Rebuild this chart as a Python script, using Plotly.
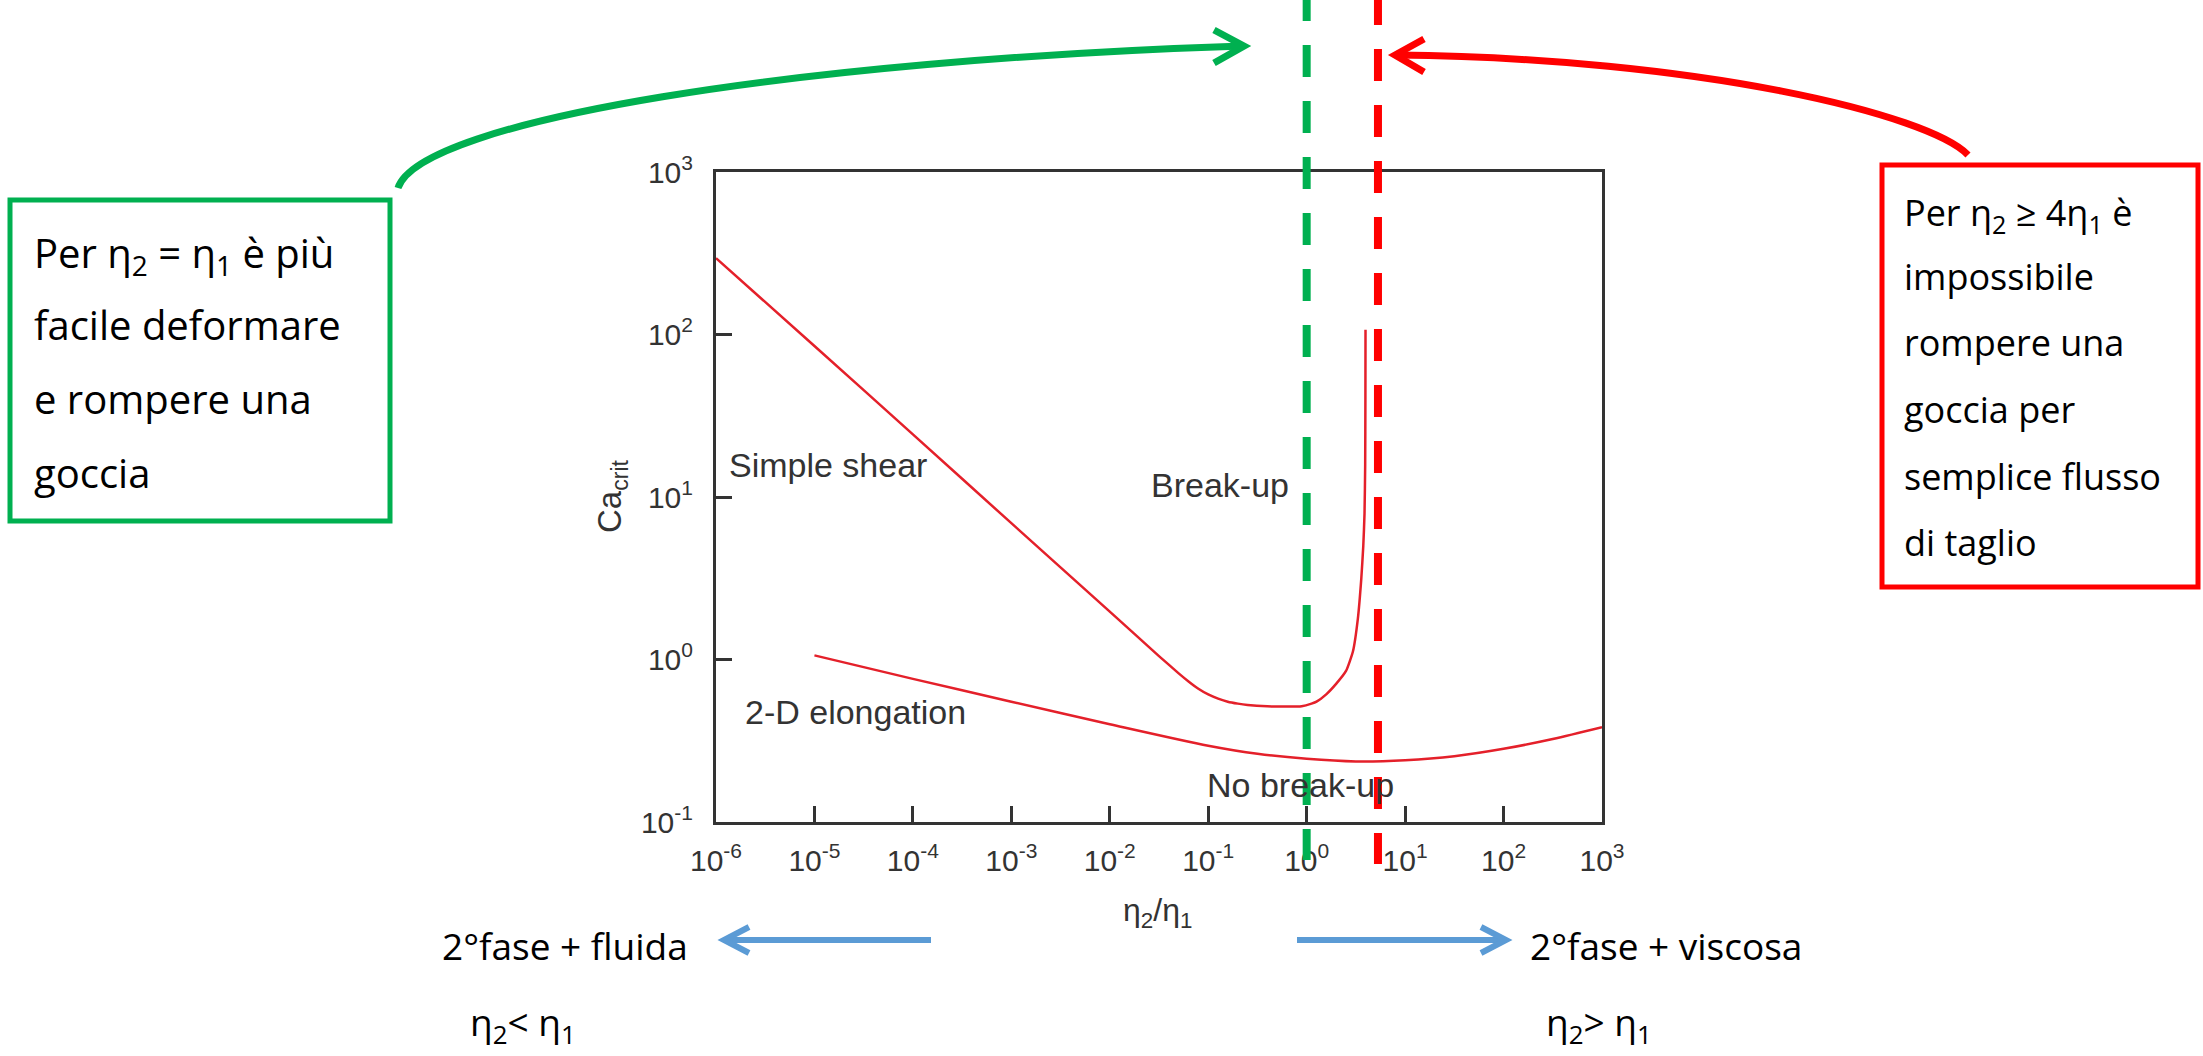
import plotly.graph_objects as go

# ---------------- data ----------------
shear_ratio = [1e-6, 1e-5, 1e-4, 1e-3, 1e-2, 0.0316, 0.0501, 0.0631, 0.0794, 0.1, 0.126,
               0.158, 0.2, 0.251, 0.398, 0.631, 0.891, 1.12, 1.26, 1.58, 2.0, 2.51, 2.95,
               3.31, 3.59, 3.76, 3.87, 3.93, 3.95, 3.96]
shear_ca = [295, 85, 24.3, 6.9, 1.97, 1.05, 0.822, 0.733, 0.661, 0.610, 0.575,
            0.550, 0.535, 0.525, 0.515, 0.513, 0.516, 0.535, 0.55, 0.61, 0.71, 0.85, 1.12,
            1.78, 3.16, 5.0, 7.9, 15.8, 40, 107]

elong_ratio = [1e-5, 1e-4, 1e-3, 1e-2, 0.1, 0.316, 1, 3.16, 10, 31.6, 100, 316, 1000]
elong_ca = [1.06, 0.76, 0.55, 0.40, 0.295, 0.263, 0.245, 0.236, 0.24, 0.254, 0.282, 0.324, 0.383]

x_tick_vals = [1e-6, 1e-5, 1e-4, 1e-3, 1e-2, 1e-1, 1, 10, 100, 1000]
x_tick_text = ["10<sup>-6</sup>", "10<sup>-5</sup>", "10<sup>-4</sup>", "10<sup>-3</sup>",
               "10<sup>-2</sup>", "10<sup>-1</sup>", "10<sup>0</sup>", "10<sup>1</sup>",
               "10<sup>2</sup>", "10<sup>3</sup>"]
y_tick_vals = [0.1, 1, 10, 100, 1000]
y_tick_text = ["10<sup>-1</sup>", "10<sup>0</sup>", "10<sup>1</sup>", "10<sup>2</sup>", "10<sup>3</sup>"]

equal_ratio = 1.0      # green dashed line
limit_ratio = 5.3      # red dashed line

green_box_lines = ["Per η<sub>2</sub> = η<sub>1</sub> è più", "facile deformare",
                   "e rompere una", "goccia"]
red_box_lines = ["Per η<sub>2</sub> ≥ 4η<sub>1</sub> è", "impossibile", "rompere una",
                 "goccia per", "semplice flusso", "di taglio"]

# ---------------- layout geometry ----------------
WIDTH, HEIGHT = 2203, 1056
L, R, T, B = 716, 1602, 172, 822
W, H = R - L, B - T


def px(x):
    return (x - L) / W


def py(y):
    return (B - y) / H


CURVE_RED = "#e4202a"
GREEN = "#00B050"
RED = "#FF0000"
BLUE = "#5B9BD5"
AX = "#333333"
PLOT_FONT = "Liberation Sans, Arial, sans-serif"
BOX_FONT = "Open Sans, Noto Sans, sans-serif"

fig = go.Figure()
fig.add_trace(go.Scatter(x=shear_ratio, y=shear_ca, mode="lines",
                         line=dict(color=CURVE_RED, width=2.5, shape="spline", smoothing=0.5),
                         name="Simple shear", showlegend=False))
fig.add_trace(go.Scatter(x=elong_ratio, y=elong_ca, mode="lines",
                         line=dict(color=CURVE_RED, width=2.5, shape="spline", smoothing=0.8),
                         name="2-D elongation", showlegend=False))

shapes = []
# vertical dashed reference lines
shapes.append(dict(type="line", xref="x", yref="paper", x0=equal_ratio, x1=equal_ratio,
                   y0=py(-11), y1=py(860), line=dict(color=GREEN, width=8, dash="32px,24px"),
                   layer="above"))
shapes.append(dict(type="line", xref="x", yref="paper", x0=limit_ratio, x1=limit_ratio,
                   y0=py(-7), y1=py(864), line=dict(color=RED, width=8, dash="32px,24px"),
                   layer="above"))
# boxes
shapes.append(dict(type="rect", xref="paper", yref="paper", x0=px(10), x1=px(390),
                   y0=py(200), y1=py(521), line=dict(color=GREEN, width=5), fillcolor="white"))
shapes.append(dict(type="rect", xref="paper", yref="paper", x0=px(1882), x1=px(2198),
                   y0=py(165), y1=py(587), line=dict(color=RED, width=5), fillcolor="white"))


def path(points, cmd):
    s = ""
    for c, (x, y) in zip(cmd, points):
        s += f"{c} {px(x):.5f},{py(y):.5f} "
    return s.strip()


def cubic(p0, p1, p2, p3):
    return (f"M {px(p0[0]):.5f},{py(p0[1]):.5f} C {px(p1[0]):.5f},{py(p1[1]):.5f} "
            f"{px(p2[0]):.5f},{py(p2[1]):.5f} {px(p3[0]):.5f},{py(p3[1]):.5f}")


# green curved arrow
shapes.append(dict(type="path", xref="paper", yref="paper",
                   path=cubic((398, 188), (420, 120), (800, 60), (1243, 46)),
                   line=dict(color=GREEN, width=7)))
shapes.append(dict(type="path", xref="paper", yref="paper",
                   path=path([(1214, 30), (1244, 46), (1214, 63)], "MLL"),
                   line=dict(color=GREEN, width=7)))
# red curved arrow
shapes.append(dict(type="path", xref="paper", yref="paper",
                   path=cubic((1968, 155), (1930, 115), (1700, 58), (1396, 55)),
                   line=dict(color=RED, width=7)))
shapes.append(dict(type="path", xref="paper", yref="paper",
                   path=path([(1424, 39), (1395, 55), (1424, 72)], "MLL"),
                   line=dict(color=RED, width=7)))
# blue arrows
shapes.append(dict(type="line", xref="paper", yref="paper", x0=px(931), x1=px(727),
                   y0=py(940), y1=py(940), line=dict(color=BLUE, width=6)))
shapes.append(dict(type="path", xref="paper", yref="paper",
                   path=path([(749, 927), (724, 940), (749, 953)], "MLL"),
                   line=dict(color=BLUE, width=6)))
shapes.append(dict(type="line", xref="paper", yref="paper", x0=px(1297), x1=px(1503),
                   y0=py(940), y1=py(940), line=dict(color=BLUE, width=6)))
shapes.append(dict(type="path", xref="paper", yref="paper",
                   path=path([(1481, 927), (1506, 940), (1481, 953)], "MLL"),
                   line=dict(color=BLUE, width=6)))

ann = []


def text(t, x, y, size, font, color="black", xanchor="left", angle=0):
    ann.append(dict(text=t, x=px(x), y=py(y), xref="paper", yref="paper",
                    xanchor=xanchor, yanchor="middle", showarrow=False, textangle=angle,
                    font=dict(size=size, family=font, color=color)))


# in-plot labels
text("Simple shear", 727, 465, 34, PLOT_FONT, AX)
text("Break-up", 1149, 485, 34, PLOT_FONT, AX)
text("2-D elongation", 743, 712, 34, PLOT_FONT, AX)
text("No break-up", 1205, 785, 34, PLOT_FONT, AX)
# axis titles
text("η<sub>2</sub>/η<sub>1</sub>", 1157, 912, 32, PLOT_FONT, AX, xanchor="center")
text("Ca<sub>crit</sub>", 612, 496, 33, PLOT_FONT, AX, xanchor="center", angle=-90)

# box texts
for line_txt, yc in zip(green_box_lines, [254, 324.5, 398.5, 472.5]):
    text(line_txt, 32, yc, 40, BOX_FONT)
for line_txt, yc in zip(red_box_lines, [214, 276, 342.7, 409, 476, 542.7]):
    text(line_txt, 1902, yc, 36, BOX_FONT)

# bottom texts
text("2°fase + fluida", 440, 945.6, 37, BOX_FONT)
text("2°fase + viscosa", 1528, 945.6, 37, BOX_FONT)
text("η<sub>2</sub>< η<sub>1</sub>", 468, 1024, 37, BOX_FONT)
text("η<sub>2</sub>> η<sub>1</sub>", 1544, 1024, 37, BOX_FONT)

axis_common = dict(type="log", showline=True, mirror=True, linecolor=AX, linewidth=3,
                   ticks="inside", tickcolor=AX, tickwidth=3, ticklen=16,
                   showgrid=False, zeroline=False, automargin=False,
                   tickfont=dict(family=PLOT_FONT, size=30, color=AX))

fig.update_layout(
    width=WIDTH, height=HEIGHT, autosize=False,
    margin=dict(l=L, r=WIDTH - R, t=T, b=HEIGHT - B, pad=0),
    paper_bgcolor="white", plot_bgcolor="white",
    xaxis=dict(range=[-6, 3], tickvals=x_tick_vals, ticktext=x_tick_text,
               ticklabelstandoff=10, **axis_common),
    yaxis=dict(range=[-1, 3], tickvals=y_tick_vals, ticktext=y_tick_text,
               ticklabelstandoff=14, **axis_common),
    shapes=shapes, annotations=ann, showlegend=False,
)

fig.write_html("out.html", config={"displayModeBar": False},
               post_script="document.body.style.margin='0';document.body.style.overflow='hidden';")
